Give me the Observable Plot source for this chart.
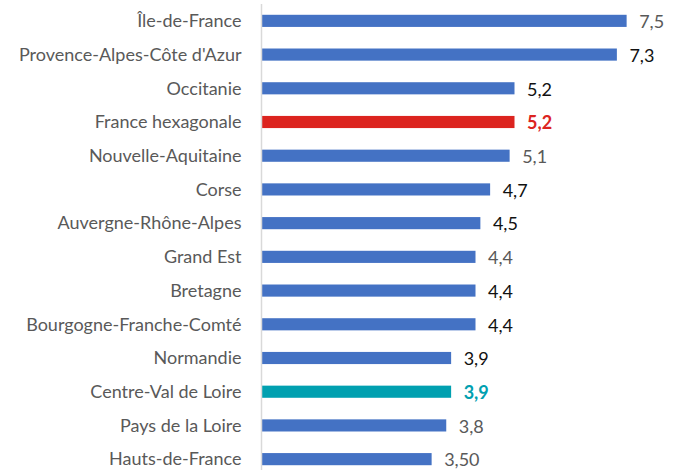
<!DOCTYPE html>
<html>
<head>
<meta charset="utf-8">
<script src="https://cdn.jsdelivr.net/npm/d3@7"></script>
<script src="https://cdn.jsdelivr.net/npm/@observablehq/plot@0.6"></script>
<style>
  html, body { margin: 0; padding: 0; background: #fff; }
  #chart { width: 677px; height: 470px; overflow: hidden; }
</style>
</head>
<body>
<div id="chart"></div>
<script>
const regions = ["Île-de-France", "Provence-Alpes-Côte d'Azur", "Occitanie", "France hexagonale", "Nouvelle-Aquitaine", "Corse", "Auvergne-Rhône-Alpes", "Grand Est", "Bretagne", "Bourgogne-Franche-Comté", "Normandie", "Centre-Val de Loire", "Pays de la Loire", "Hauts-de-France"];
const values = [7.5, 7.3, 5.2, 5.2, 5.1, 4.7, 4.5, 4.4, 4.4, 4.4, 3.9, 3.9, 3.8, 3.5];
const valueLabels = ["7,5", "7,3", "5,2", "5,2", "5,1", "4,7", "4,5", "4,4", "4,4", "4,4", "3,9", "3,9", "3,8", "3,50"];
const groups = ["region", "region", "region", "france", "region", "region", "region", "region", "region", "region", "region", "focus", "region", "region"];

const barColor = {region: "#4472C4", france: "#DC241F", focus: "#00A0B0"};
const darkLabel = new Set(["Provence-Alpes-Côte d'Azur", "Occitanie", "Corse", "Auvergne-Rhône-Alpes", "Bretagne", "Bourgogne-Franche-Comté", "Normandie"]);

const data = regions.map((r, i) => ({
  region: r, value: values[i], label: valueLabels[i], group: groups[i],
  labelColor: groups[i] === "region" ? (darkLabel.has(r) ? "#111111" : "#595959") : barColor[groups[i]]
}));
const plain = data.filter(d => d.group === "region");
const bold = data.filter(d => d.group !== "region");

const chart = Plot.plot({
  width: 677,
  height: 470,
  marginLeft: 261,
  marginRight: 26,
  marginTop: 4,
  marginBottom: -6,
  style: {fontFamily: "Lato, 'Open Sans', sans-serif", fontSize: "18px", background: "#fff"},
  x: {domain: [0, 8], axis: null},
  y: {domain: regions, paddingInner: 0.64, paddingOuter: 0.32, round: false, axis: null},
  marks: [
    Plot.barX(data, {y: "region", x: "value", fill: d => barColor[d.group]}),
    Plot.ruleX([0], {stroke: "#D9D9D9", strokeWidth: 1.5}),
    Plot.axisY({tickSize: 0, tickPadding: 20, fill: "#595959", fontSize: 18, label: null}),
    Plot.text(plain, {y: "region", x: "value", text: "label", dx: 12, textAnchor: "start",
      fill: "labelColor", fontSize: 18, dy: 1}),
    Plot.text(bold, {y: "region", x: "value", text: "label", dx: 12, textAnchor: "start",
      fill: "labelColor", fontWeight: "bold", fontSize: 18, dy: 1})
  ]
});
document.getElementById("chart").appendChild(chart);
</script>
</body>
</html>
